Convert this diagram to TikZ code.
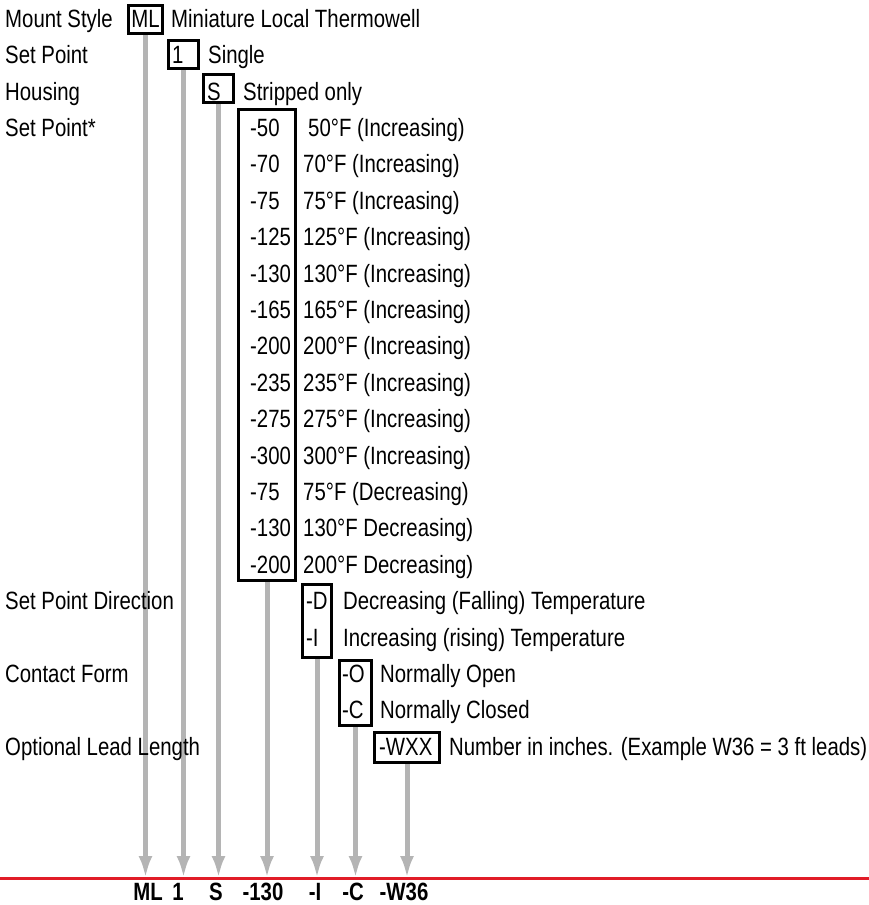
\documentclass[tikz,border=0pt]{standalone}
\usepackage{fontspec}
\setmainfont[FakeStretch=0.815]{Liberation Sans}
\usetikzlibrary{arrows.meta}
\definecolor{feedgray}{RGB}{180,180,180}
\definecolor{leadred}{RGB}{225,28,40}

\begin{document}
\begin{tikzpicture}[x=1pt,y=-1pt,
  lbl/.style={anchor=base west,inner sep=0pt,font=\fontsize{25}{29}\selectfont},
  codebox/.style={draw=black,line width=2.7pt,inner sep=0pt},
  feed/.style={draw=feedgray,line width=5pt,-{Latex[length=22pt,width=14pt]}},
  outlbl/.style={anchor=base,inner sep=0pt,font=\fontsize{25}{29}\selectfont\bfseries}]
\useasboundingbox (0,0) rectangle (869,905);

% boxes round the codes
\node[codebox,minimum width=34.3pt,minimum height=28.3pt] (bML) at (145.5,19.5) {};
\node[codebox,minimum width=30.3pt,minimum height=28.3pt] (bOne) at (183.5,54.5) {};
\node[codebox,minimum width=30.3pt,minimum height=28.3pt] (bS) at (218.5,88.5) {};
\node[codebox,minimum width=57.3pt,minimum height=471.3pt] (bSP) at (267,345) {};
\node[codebox,minimum width=29.3pt,minimum height=73.3pt] (bDir) at (317,621) {};
\node[codebox,minimum width=32.3pt,minimum height=65.3pt] (bCon) at (355.5,693) {};
\node[codebox,minimum width=65.3pt,minimum height=30.3pt] (bLead) at (407,747.5) {};

% red line and feeds down to it
\coordinate (redL) at (0,878);
\coordinate (redR) at (869,878);
\draw[leadred,line width=3pt] (redL) -- (redR);
\draw[feed] (bML.south) -- (bML.south |- redL);
\draw[feed] (bOne.south) -- (bOne.south |- redL);
\draw[feed] (bS.south) -- (bS.south |- redL);
\draw[feed] (bSP.south) -- (bSP.south |- redL);
\draw[feed] (bDir.south) -- (bDir.south |- redL);
\draw[feed] (bCon.south) -- (bCon.south |- redL);
\draw[feed] (bLead.south) -- (bLead.south |- redL);

% field names
\node[lbl] (fMount) at (5,27.2) {Mount Style};
\node[lbl] (fSet) at (5,63.6) {Set Point};
\node[lbl] (fHouse) at (5,100.0) {Housing};
\node[lbl] (fSP) at (5,136.4) {Set Point*};
\node[lbl] (fDir) at (5,609.6) {Set Point Direction};
\node[lbl] (fCon) at (5,682.4) {Contact Form};
\node[lbl] (fLead) at (5,755.2) {Optional Lead Length};

% codes and meanings
\node[lbl,anchor=base] (cML) at (145.5,27.2) {ML};
\node[lbl] (dML) at (171,27.2) {Miniature Local Thermowell};
\node[lbl] (cOne) at (172,63.6) {1};
\node[lbl] (dOne) at (208,63.6) {Single};
\node[lbl] (cS) at (207,100.0) {S};
\node[lbl] (dS) at (243,100.0) {Stripped only};

\node[lbl] (c50) at (250,136.4) {-50};
\node[lbl] (d50) at (308,136.4) {50°F (Increasing)};
\node[lbl] (c70) at (250,172.8) {-70};
\node[lbl] (d70) at (303,172.8) {70°F (Increasing)};
\node[lbl] (c75) at (250,209.2) {-75};
\node[lbl] (d75) at (303,209.2) {75°F (Increasing)};
\node[lbl] (c125) at (250,245.6) {-125};
\node[lbl] (d125) at (303,245.6) {125°F (Increasing)};
\node[lbl] (c130) at (250,282.0) {-130};
\node[lbl] (d130) at (303,282.0) {130°F (Increasing)};
\node[lbl] (c165) at (250,318.4) {-165};
\node[lbl] (d165) at (303,318.4) {165°F (Increasing)};
\node[lbl] (c200) at (250,354.8) {-200};
\node[lbl] (d200) at (303,354.8) {200°F (Increasing)};
\node[lbl] (c235) at (250,391.2) {-235};
\node[lbl] (d235) at (303,391.2) {235°F (Increasing)};
\node[lbl] (c275) at (250,427.6) {-275};
\node[lbl] (d275) at (303,427.6) {275°F (Increasing)};
\node[lbl] (c300) at (250,464.0) {-300};
\node[lbl] (d300) at (303,464.0) {300°F (Increasing)};
\node[lbl] (c75d) at (250,500.4) {-75};
\node[lbl] (d75d) at (303,500.4) {75°F (Decreasing)};
\node[lbl] (c130d) at (250,536.8) {-130};
\node[lbl] (d130d) at (303,536.8) {130°F Decreasing)};
\node[lbl] (c200d) at (250,573.2) {-200};
\node[lbl] (d200d) at (303,573.2) {200°F Decreasing)};

\node[lbl] (cD) at (306,609.6) {-D};
\node[lbl] (dD) at (343,609.6) {Decreasing (Falling) Temperature};
\node[lbl] (cI) at (306,646.0) {-I};
\node[lbl] (dI) at (343,646.0) {Increasing (rising) Temperature};
\node[lbl] (cO) at (342,682.4) {-O};
\node[lbl] (dO) at (380,682.4) {Normally Open};
\node[lbl] (cC) at (342,718.8) {-C};
\node[lbl] (dC) at (380,718.8) {Normally Closed};
\node[lbl] (cW) at (379,755.2) {-WXX};
\node[lbl] (dW) at (449,755.2) {Number in inches. (Example W36 = 3 ft leads)};

% resulting part number
\node[outlbl] (oML) at (148,900) {ML};
\node[outlbl] (oOne) at (178,900) {1};
\node[outlbl] (oS) at (216,900) {S};
\node[outlbl] (oSP) at (263,900) {-130};
\node[outlbl] (oDir) at (315,900) {-I};
\node[outlbl] (oCon) at (353,900) {-C};
\node[outlbl] (oLead) at (404,900) {-W36};
\end{tikzpicture}
\end{document}
